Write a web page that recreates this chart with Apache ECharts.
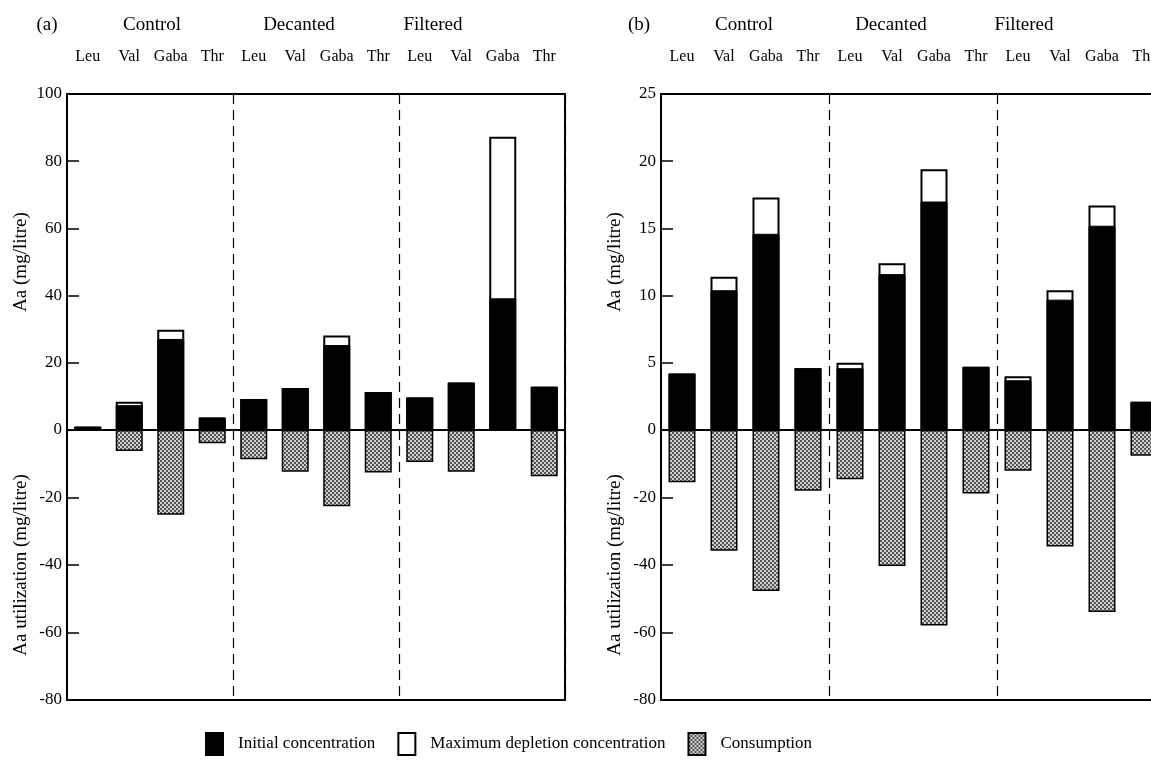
<!DOCTYPE html>
<html>
<head>
<meta charset="utf-8">
<script src="https://cdn.jsdelivr.net/npm/echarts@6/dist/echarts.min.js"></script>
<style>
html,body{margin:0;padding:0;background:#fff;}
#chart{width:1151px;height:762px;}
</style>
</head>
<body>
<div id="chart"></div>
<script>
// ---- data ----
const aminoAcids = ['Leu', 'Val', 'Gaba', 'Thr'];
const treatments = ['Control', 'Decanted', 'Filtered'];

// Panel (a)
const aInitial       = [1.0, 7.4, 27.1, 3.7,   9.2, 12.5, 25.3, 11.3,   9.7, 14.1, 39.2, 12.9];
const aMaxDepletion  = [1.0, 8.4, 29.8, 3.7,   9.2, 12.5, 28.1, 11.3,   9.7, 14.1, 87.3, 12.9];
const aConsumption   = [0, -6.2, -25.1, -3.9,  -8.7, -12.4, -22.6, -12.6,  -9.5, -12.4, 0, -13.7];

// Panel (b)
const bInitial       = [4.2, 10.4, 14.6, 4.6,   4.6, 11.6, 17.0, 4.7,   3.7, 9.7, 15.2, 2.1];
const bMaxDepletion  = [4.2, 11.4, 17.3, 4.6,   5.0, 12.4, 19.4, 4.7,   4.0, 10.4, 16.7, 2.1];
const bConsumption   = [-15.5, -35.8, -47.7, -18.0,  -14.6, -40.3, -57.9, -18.8,  -12.1, -34.5, -53.9, -7.6];

// tick settings
const aTopTicks = {min: 0, max: 100, interval: 20};
const bTopTicks = {min: 0, max: 25, interval: 5};
const bottomTicks = {min: -80, max: 0, interval: 20};

// ---- build ----
const categories = [];
treatments.forEach(t => aminoAcids.forEach(a => categories.push(t + '|' + a)));

const FONT = 'Liberation Serif';
const INIT = 'Initial concentration';
const MAXD = 'Maximum depletion concentration';
const CONS = 'Consumption';

// stipple pattern for consumption
const pc = document.createElement('canvas');
pc.width = 4; pc.height = 4;
const pctx = pc.getContext('2d');
pctx.fillStyle = '#cfcfcf'; pctx.fillRect(0, 0, 4, 4);
pctx.fillStyle = '#555555'; pctx.fillRect(0, 0, 2, 2); pctx.fillRect(2, 2, 2, 2);
const stipple = {image: pc, repeat: 'repeat'};

const grids = [
  {left: 67, width: 498, top: 94, height: 336},
  {left: 67, width: 498, top: 430, height: 270},
  {left: 661, width: 504, top: 94, height: 336},
  {left: 661, width: 504, top: 430, height: 270}
].map(g => Object.assign(g, {
  show: true, borderColor: '#000', borderWidth: 2, backgroundColor: 'transparent',
  containLabel: false, outerBoundsMode: 'none'
}));

function xAxis(gi, showLabels) {
  return {
    type: 'category', gridIndex: gi, data: categories, position: 'top',
    axisLine: {show: false}, axisTick: {show: false},
    axisLabel: {
      show: showLabels, interval: 0, margin: 29, color: '#000',
      fontFamily: FONT, fontSize: 16, hideOverlap: false,
      formatter: v => v.split('|')[1]
    },
    splitLine: {
      show: true, interval: (i) => i === 4 || i === 8,
      lineStyle: {color: '#000', width: 1.2, type: [10, 6]}
    }
  };
}

function yAxis(gi, ticks, name, hideZero) {
  return Object.assign({
    type: 'value', gridIndex: gi,
    name: name, nameLocation: 'middle', nameGap: 36, nameRotate: 90,
    nameTextStyle: {fontFamily: FONT, fontSize: 19, color: '#000'},
    axisLine: {show: true, lineStyle: {color: '#000', width: 2}},
    axisTick: {show: true, inside: true, length: 12, lineStyle: {color: '#000', width: 1.5}},
    axisLabel: {
      color: '#000', fontFamily: FONT, fontSize: 17, margin: 5,
      formatter: v => (hideZero && v === 0) ? '' : String(v)
    },
    splitLine: {show: false}
  }, ticks);
}

function barSeries(name, xi, yi, data, style) {
  return {
    type: 'bar', name: name, xAxisIndex: xi, yAxisIndex: yi, data: data,
    barWidth: 27, barGap: '-100%', itemStyle: style, emphasis: {disabled: true},
    animation: false
  };
}

const whiteStyle = {color: '#fff', borderColor: '#000', borderWidth: 2};
const blackStyle = {color: '#000', borderColor: '#000', borderWidth: 1};
const consStyle = {color: stipple, borderColor: '#000', borderWidth: 1.5};

const headerX = {
  a: [47, 152, 299, 433],
  b: [639, 744, 891, 1024]
};
const graphics = [];
['a', 'b'].forEach(p => {
  const texts = ['(' + p + ')'].concat(treatments);
  texts.forEach((t, i) => graphics.push({
    type: 'text', x: headerX[p][i], y: 25,
    style: {text: t, fontFamily: FONT, fontSize: 19, fill: '#000', textAlign: 'center', textVerticalAlign: 'middle'}
  }));
});

const option = {
  backgroundColor: '#fff',
  animation: false,
  grid: grids,
  xAxis: [xAxis(0, true), xAxis(1, false), xAxis(2, true), xAxis(3, false)],
  yAxis: [
    yAxis(0, aTopTicks, 'Aa (mg/litre)', false),
    yAxis(1, bottomTicks, 'Aa utilization (mg/litre)', true),
    yAxis(2, bTopTicks, 'Aa (mg/litre)', false),
    yAxis(3, bottomTicks, 'Aa utilization (mg/litre)', true)
  ],
  legend: {
    data: [INIT, MAXD, CONS],
    left: 200, top: 727,
    icon: 'rect',
    itemWidth: 17, itemHeight: 22, itemGap: 22,
    textStyle: {fontFamily: FONT, fontSize: 17, color: '#000', padding: [0, 0, 0, 10]},
    selectedMode: false
  },
  graphic: graphics,
  series: [
    barSeries(MAXD, 0, 0, aMaxDepletion, whiteStyle),
    barSeries(INIT, 0, 0, aInitial, blackStyle),
    barSeries(CONS, 1, 1, aConsumption, consStyle),
    barSeries(MAXD, 2, 2, bMaxDepletion, whiteStyle),
    barSeries(INIT, 2, 2, bInitial, blackStyle),
    barSeries(CONS, 3, 3, bConsumption, consStyle)
  ]
};

const chart = echarts.init(document.getElementById('chart'), null, {renderer: 'canvas'});
chart.setOption(option);
</script>
</body>
</html>
